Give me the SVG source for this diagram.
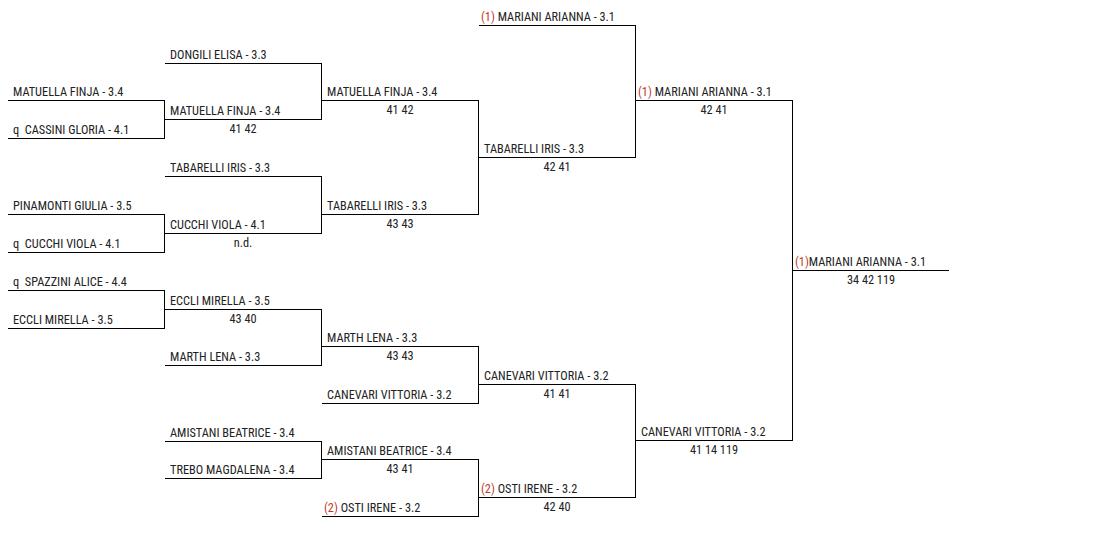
<svg xmlns="http://www.w3.org/2000/svg" width="1112" height="543" viewBox="0 0 1112 543">
<style>
text{font-family:"Roboto Condensed",Roboto,"Liberation Sans",sans-serif;font-size:12.3px;fill:#222;}
.s{text-anchor:middle;}
.r{fill:#c0392b;}
line{stroke:#000;stroke-width:1;fill:none;shape-rendering:crispEdges;}
</style>
<rect width="1112" height="543" fill="#fff"/>

<!-- Round 1 -->
<g id="r1-matuella"><line x1="8" y1="100.5" x2="164" y2="100.5"/><text x="13" y="96">MATUELLA FINJA - 3.4</text></g>
<g id="r1-cassini"><line x1="8" y1="138.5" x2="164" y2="138.5"/><text x="13" y="134">q&#160;&#160;CASSINI GLORIA - 4.1</text></g>
<g id="r1-pinamonti"><line x1="8" y1="214.5" x2="164" y2="214.5"/><text x="13" y="210">PINAMONTI GIULIA - 3.5</text></g>
<g id="r1-cucchi"><line x1="8" y1="252.5" x2="164" y2="252.5"/><text x="13" y="248">q&#160;&#160;CUCCHI VIOLA - 4.1</text></g>
<g id="r1-spazzini"><line x1="8" y1="290.5" x2="164" y2="290.5"/><text x="13" y="286">q&#160;&#160;SPAZZINI ALICE - 4.4</text></g>
<g id="r1-eccli"><line x1="8" y1="328.5" x2="164" y2="328.5"/><text x="13" y="324">ECCLI MIRELLA - 3.5</text></g>

<!-- Round 2 -->
<g id="r2-dongili"><line x1="165" y1="63.5" x2="321" y2="63.5"/><text x="170" y="59">DONGILI ELISA - 3.3</text></g>
<g id="r2-matuella"><line x1="165" y1="119.5" x2="321" y2="119.5"/><text x="170" y="115">MATUELLA FINJA - 3.4</text><text class="s" x="243" y="133">41 42</text></g>
<g id="r2-tabarelli"><line x1="165" y1="176.5" x2="321" y2="176.5"/><text x="170" y="172">TABARELLI IRIS - 3.3</text></g>
<g id="r2-cucchi"><line x1="165" y1="233.5" x2="321" y2="233.5"/><text x="170" y="229">CUCCHI VIOLA - 4.1</text><text class="s" x="243" y="247">n.d.</text></g>
<g id="r2-eccli"><line x1="165" y1="309.5" x2="321" y2="309.5"/><text x="170" y="305">ECCLI MIRELLA - 3.5</text><text class="s" x="243" y="323">43 40</text></g>
<g id="r2-marth"><line x1="165" y1="365.5" x2="321" y2="365.5"/><text x="170" y="361">MARTH LENA - 3.3</text></g>
<g id="r2-amistani"><line x1="165" y1="441.5" x2="321" y2="441.5"/><text x="170" y="437">AMISTANI BEATRICE - 3.4</text></g>
<g id="r2-trebo"><line x1="165" y1="478.5" x2="321" y2="478.5"/><text x="170" y="474">TREBO MAGDALENA - 3.4</text></g>

<!-- Round 3 -->
<g id="r3-matuella"><line x1="322" y1="100.5" x2="478" y2="100.5"/><text x="327" y="96">MATUELLA FINJA - 3.4</text><text class="s" x="400" y="114">41 42</text></g>
<g id="r3-tabarelli"><line x1="322" y1="214.5" x2="478" y2="214.5"/><text x="327" y="210">TABARELLI IRIS - 3.3</text><text class="s" x="400" y="228">43 43</text></g>
<g id="r3-marth"><line x1="322" y1="346.5" x2="478" y2="346.5"/><text x="327" y="342">MARTH LENA - 3.3</text><text class="s" x="400" y="360">43 43</text></g>
<g id="r3-canevari"><line x1="322" y1="403.5" x2="478" y2="403.5"/><text x="327" y="399">CANEVARI VITTORIA - 3.2</text></g>
<g id="r3-amistani"><line x1="322" y1="459.5" x2="478" y2="459.5"/><text x="327" y="455">AMISTANI BEATRICE - 3.4</text><text class="s" x="400" y="473">43 41</text></g>
<g id="r3-osti"><line x1="322" y1="516.5" x2="478" y2="516.5"/><text x="324" y="512"><tspan class="r">(2)</tspan> OSTI IRENE - 3.2</text></g>

<!-- Round 4 -->
<g id="r4-mariani"><line x1="479" y1="25.5" x2="635" y2="25.5"/><text x="481" y="21"><tspan class="r">(1)</tspan> MARIANI ARIANNA - 3.1</text></g>
<g id="r4-tabarelli"><line x1="479" y1="157.5" x2="635" y2="157.5"/><text x="484" y="153">TABARELLI IRIS - 3.3</text><text class="s" x="557" y="171">42 41</text></g>
<g id="r4-canevari"><line x1="479" y1="384.5" x2="635" y2="384.5"/><text x="484" y="380">CANEVARI VITTORIA - 3.2</text><text class="s" x="557" y="398">41 41</text></g>
<g id="r4-osti"><line x1="479" y1="497.5" x2="635" y2="497.5"/><text x="481" y="493"><tspan class="r">(2)</tspan> OSTI IRENE - 3.2</text><text class="s" x="557" y="511">42 40</text></g>

<!-- Round 5 -->
<g id="r5-mariani"><line x1="636" y1="100.5" x2="792" y2="100.5"/><text x="638" y="96"><tspan class="r">(1)</tspan> MARIANI ARIANNA - 3.1</text><text class="s" x="714" y="114">42 41</text></g>
<g id="r5-canevari"><line x1="636" y1="440.5" x2="792" y2="440.5"/><text x="641" y="436">CANEVARI VITTORIA - 3.2</text><text class="s" x="714" y="454">41 14 119</text></g>

<!-- Winner -->
<g id="winner"><line x1="793" y1="270.5" x2="949" y2="270.5"/><text x="795" y="266"><tspan class="r">(1)</tspan>MARIANI ARIANNA - 3.1</text><text class="s" x="871" y="284">34 42 119</text></g>

<!-- Connectors -->
<g id="connectors">
<line x1="164.5" y1="100" x2="164.5" y2="139"/>
<line x1="164.5" y1="214" x2="164.5" y2="253"/>
<line x1="164.5" y1="290" x2="164.5" y2="329"/>
<line x1="321.5" y1="63" x2="321.5" y2="120"/>
<line x1="321.5" y1="176" x2="321.5" y2="234"/>
<line x1="321.5" y1="309" x2="321.5" y2="366"/>
<line x1="321.5" y1="441" x2="321.5" y2="479"/>
<line x1="478.5" y1="100" x2="478.5" y2="215"/>
<line x1="478.5" y1="346" x2="478.5" y2="404"/>
<line x1="478.5" y1="459" x2="478.5" y2="517"/>
<line x1="635.5" y1="25" x2="635.5" y2="158"/>
<line x1="635.5" y1="384" x2="635.5" y2="498"/>
<line x1="792.5" y1="100" x2="792.5" y2="441"/>
</g>
</svg>
